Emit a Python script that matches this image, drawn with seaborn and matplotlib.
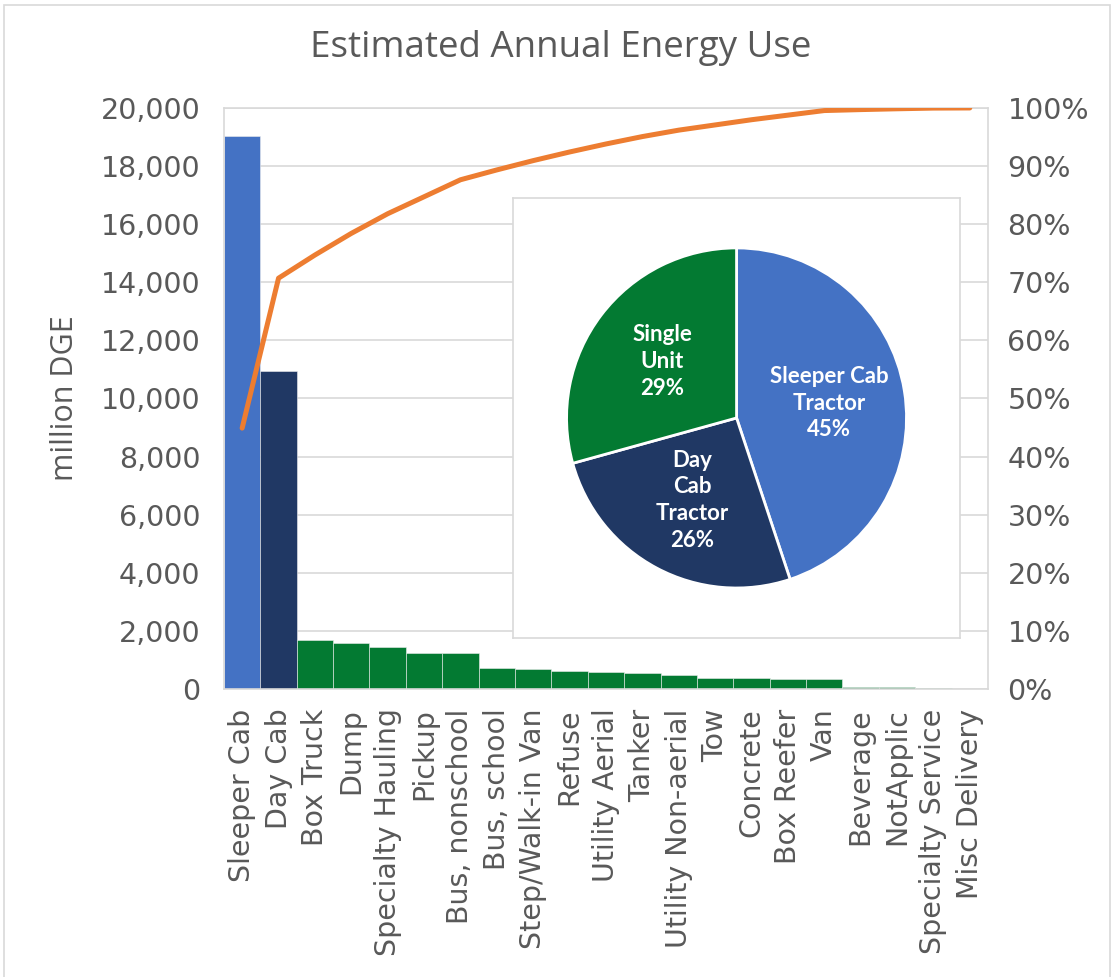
import numpy as np
import pandas as pd
import seaborn as sns
import matplotlib.pyplot as plt
from matplotlib.patches import Rectangle
from matplotlib.ticker import FuncFormatter

# bar data (million DGE)
categories = ["Sleeper Cab", "Day Cab", "Box Truck", "Dump", "Specialty Hauling",
              "Pickup", "Bus, nonschool", "Bus, school", "Step/Walk-in Van", "Refuse",
              "Utility Aerial", "Tanker", "Utility Non-aerial", "Tow", "Concrete",
              "Box Reefer", "Van", "Beverage", "NotApplic", "Specialty Service",
              "Misc Delivery"]
energy = [19050, 10950, 1690, 1580, 1435, 1240, 1240, 720, 680, 630,
          585, 540, 470, 380, 380, 335, 335, 70, 60, 50, 10]
groups = ["Sleeper Cab Tractor", "Day Cab Tractor"] + ["Single Unit"] * 19

pie_order = ["Sleeper Cab Tractor", "Day Cab Tractor", "Single Unit"]
pie_names = ["Sleeper Cab\nTractor", "Day\nCab\nTractor", "Single\nUnit"]
colors = {"Sleeper Cab Tractor": "#4472C4", "Day Cab Tractor": "#203864",
          "Single Unit": "#037A32"}

df = pd.DataFrame({"Category": categories, "Energy": energy, "Group": groups})
df["Cumulative"] = df["Energy"].cumsum() / df["Energy"].sum()
df["Pos"] = np.arange(len(df))

sns.set_style("white")
plt.rcParams["font.family"] = ["DejaVu Sans"]
text_color = "#595959"
grid_color = "#D9D9D9"

fig = plt.figure(figsize=(11.17, 9.77), dpi=100)
ax = fig.add_axes([0.2005, 0.2948, 0.684, 0.5947])

sns.barplot(data=df, x="Category", y="Energy", hue="Group", palette=colors,
            dodge=False, width=1.0, legend=False, saturation=1,
            edgecolor="#EDEDED", linewidth=0.4, ax=ax)
ax.set_xlim(-0.5, len(df) - 0.5)
ax.set_ylim(0, 20000)
ax.set_yticks(np.arange(0, 20001, 2000))
ax.yaxis.set_major_formatter(FuncFormatter(lambda v, p: f"{int(v):,}"))
ax.yaxis.grid(True, color=grid_color, linewidth=1.2)
ax.set_axisbelow(True)
ax.set_xlabel("")
ax.set_ylabel("million DGE", fontsize=22, color=text_color, labelpad=15,
              family=["Open Sans", "DejaVu Sans"])
ax.tick_params(axis="y", labelsize=20.5, colors=text_color, length=0, pad=17)
ax.tick_params(axis="x", labelsize=20.5, colors=text_color, length=0, pad=14)
plt.setp(ax.get_xticklabels(), rotation=90)
for s in ax.spines.values():
    s.set_color(grid_color)
    s.set_linewidth(1.2)

ax2 = ax.twinx()
sns.lineplot(data=df, x="Pos", y="Cumulative", color="#ED7D31", linewidth=3.6,
             ax=ax2)
ax2.set_ylim(0, 1)
ax2.set_yticks(np.arange(0, 1.01, 0.1))
ax2.yaxis.set_major_formatter(FuncFormatter(lambda v, p: f"{v:.0%}"))
ax2.set_ylabel("")
ax2.tick_params(axis="y", labelsize=20.5, colors=text_color, length=0, pad=14)
for s in ax2.spines.values():
    s.set_visible(False)

fig.text(0.502, 0.951, "Estimated Annual Energy Use", ha="center", va="center",
         fontsize=26.5, color=text_color, family=["Open Sans", "DejaVu Sans"])

# inset pie
pie_vals = df.groupby("Group")["Energy"].sum().reindex(pie_order)
shares = pie_vals / pie_vals.sum()
labels = [f"{n}\n{s:.0%}" for n, s in zip(pie_names, shares)]

axp = fig.add_axes([0.4593, 0.347, 0.4002, 0.4504])
axp.set_facecolor("white")
wedges, texts = axp.pie(pie_vals.values, labels=labels,
                        colors=[colors[g] for g in pie_order],
                        startangle=90, counterclock=False, labeldistance=0.55,
                        wedgeprops=dict(edgecolor="white", linewidth=2),
                        textprops=dict(color="white", fontsize=16,
                                       fontweight="bold", ha="center",
                                       va="center", linespacing=1.35,
                                       family=["Lato", "DejaVu Sans"]))
axp.set_aspect("auto")
axp.set_xlim(-1.315, 1.315)
axp.set_ylim(-1.294, 1.294)
axp.set_frame_on(True)
for s in axp.spines.values():
    s.set_visible(True)
    s.set_color(grid_color)
    s.set_linewidth(1.2)
axp.set_xticks([])
axp.set_yticks([])

fig.patches.append(Rectangle((0.004, -0.05), 0.99, 1.045, transform=fig.transFigure,
                             fill=False, edgecolor=grid_color, linewidth=1.2))

fig.savefig("out.png", dpi=100)
